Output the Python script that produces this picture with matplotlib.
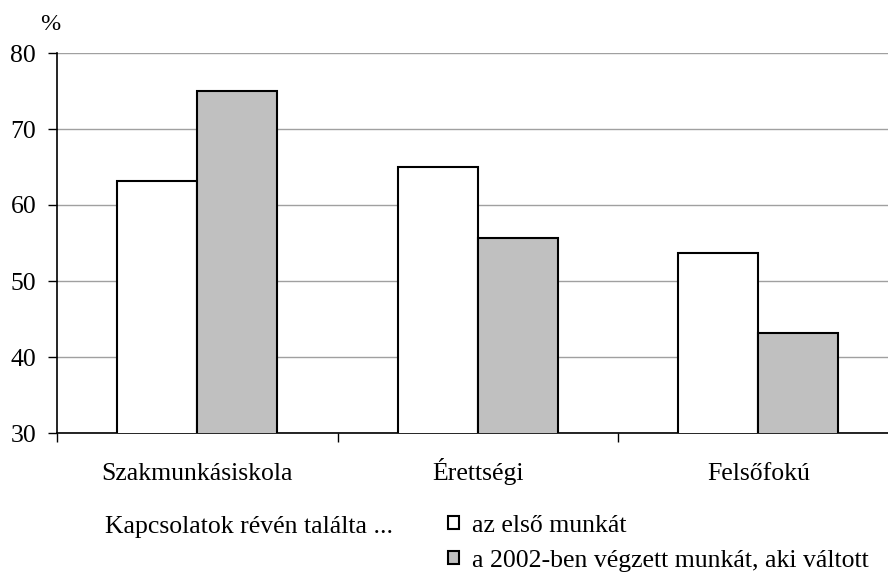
import matplotlib
matplotlib.use("Agg")
import matplotlib.pyplot as plt
import matplotlib.transforms as mtransforms
import numpy as np

categories = ["Szakmunkásiskola", "Érettségi", "Felsőfokú"]
first_job = [63.2, 65.0, 53.7]
job_2002 = [75.0, 55.6, 43.2]
series_labels = ["az első munkát", "a 2002-ben végzett munkát, aki váltott"]
yticks = [30, 40, 50, 60, 70, 80]

plt.rcParams['font.family'] = ['Liberation Serif', 'DejaVu Serif']
FS = 18.5

fig = plt.figure(figsize=(8.88, 5.72), dpi=100)
W, H = 888, 572
left, right, top, bottom = 57, 898.5, 53, 433
ax = fig.add_axes([left / W, 1 - bottom / H, (right - left) / W, (bottom - top) / H])

x = np.arange(len(categories))
bw = 0.285
b1 = ax.bar(x - bw / 2, first_job, bw, color="white", edgecolor="black", linewidth=1.5, zorder=3,
            label=series_labels[0])
b2 = ax.bar(x + bw / 2, job_2002, bw, color="#c0c0c0", edgecolor="black", linewidth=1.5, zorder=3,
            label=series_labels[1])

ax.set_xlim(-0.5, 2.5)
ax.set_ylim(30, 80)
ax.set_yticks(yticks)
ax.set_yticklabels([str(v) for v in yticks], fontsize=FS)
ax.set_xticks([-0.5, 0.5, 1.5, 2.5])
ax.set_xticklabels([])
ax.tick_params(axis='x', direction='out', length=6.5, width=1, color='black')
ax.tick_params(axis='y', direction='out', length=6.5, width=1, color='black', pad=8.5)
ax.yaxis.grid(True, color="#a0a0a0", linewidth=1, zorder=0)
ax.set_axisbelow(True)
for s in ["top", "right"]:
    ax.spines[s].set_visible(False)
ax.spines["left"].set_linewidth(1.2)
ax.spines["bottom"].set_linewidth(1.2)

blend = mtransforms.blended_transform_factory(ax.transData, fig.transFigure)
for i, c in enumerate(categories):
    ax.text(x[i], 1 - 480 / H, c, transform=blend, ha="center", va="baseline", fontsize=FS)

fig.text(40 / W, 1 - 24 / H, "%", fontsize=FS - 1, ha="left", va="center")
fig.text(105 / W, 1 - 533 / H, "Kapcsolatok révén találta ...", fontsize=FS, ha="left", va="baseline")

leg = fig.legend(handles=[b1, b2], labels=series_labels, loc="upper left",
                 bbox_to_anchor=(448 / W, 1 - 515 / H), frameon=False, fontsize=FS,
                 handlelength=0.42, handleheight=0.42, handletextpad=0.5, labelspacing=0.5,
                 borderpad=0, borderaxespad=0)

fig.savefig("out.png", dpi=100)
